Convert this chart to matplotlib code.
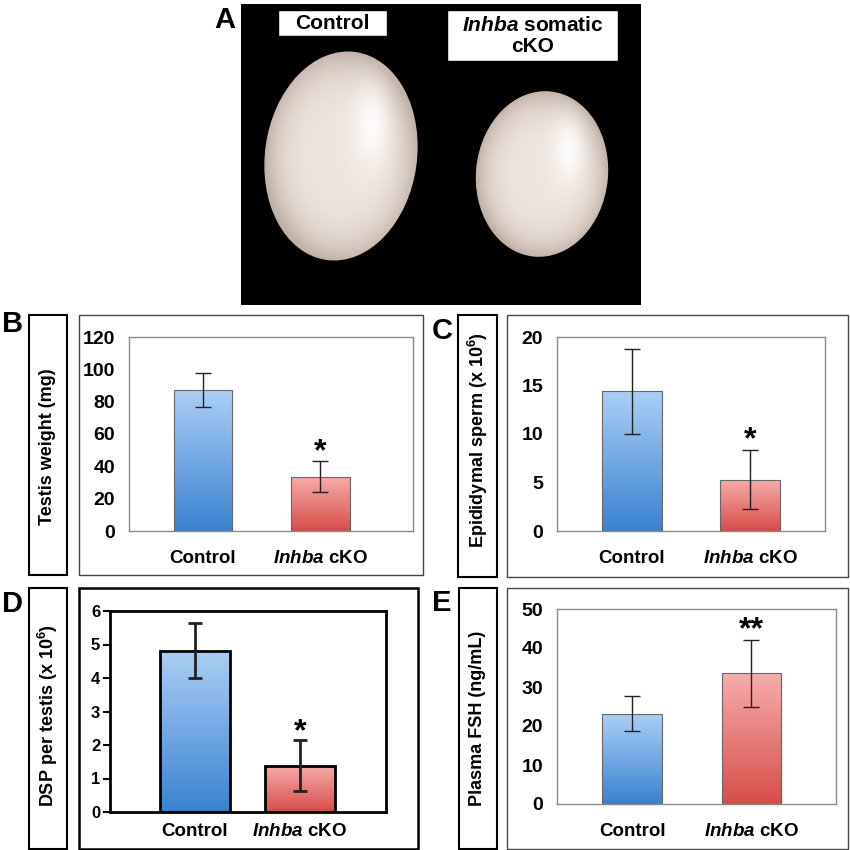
import numpy as np
import matplotlib
matplotlib.use("Agg")
import matplotlib.pyplot as plt
from matplotlib.patches import Rectangle, Ellipse
from matplotlib.colors import LinearSegmentedColormap

plt.rcParams['font.family'] = ['Liberation Sans', 'DejaVu Sans']
plt.rcParams['font.weight'] = 'bold'
plt.rcParams['mathtext.fontset'] = 'custom'
plt.rcParams['mathtext.rm'] = 'Liberation Sans:bold'
plt.rcParams['mathtext.it'] = 'Liberation Sans:bold:italic'
plt.rcParams['mathtext.bf'] = 'Liberation Sans:bold'

# data
groups = ["Control", r"$\mathit{Inhba}$ cKO"]

testis_weight = [87, 33.5]
testis_weight_err = [10.5, 9.5]

epi_sperm = [14.4, 5.3]
epi_sperm_err = [4.35, 3.0]

dsp = [4.82, 1.38]
dsp_err = [0.81, 0.76]

fsh = [23.2, 33.5]
fsh_err = [4.5, 8.5]

W = H = 850
fig = plt.figure(figsize=(8.5, 8.5), dpi=100)

blue_cm = LinearSegmentedColormap.from_list("blue", ["#3a82d0", "#abcff6"])
red_cm = LinearSegmentedColormap.from_list("red", ["#d84d48", "#f6aeaa"])


def px_axes(x0, y0, x1, y1):
    return fig.add_axes([x0 / W, 1 - y1 / H, (x1 - x0) / W, (y1 - y0) / H])


def box(x0, y0, x1, y1, lw=1.0, color="#555555"):
    fig.patches.append(Rectangle((x0 / W, 1 - y1 / H), (x1 - x0) / W, (y1 - y0) / H,
                                 transform=fig.transFigure, fill=False,
                                 lw=lw, ec=color, zorder=0))


def letter(x, y, s):
    fig.text(x / W, 1 - y / H, s, fontsize=21, fontweight='bold', ha='left', va='center')


def bar_panel(rect, vals, errs, ticks, xlim, width, stars, star_y, heavy=False):
    ax = px_axes(*rect)
    x = np.arange(len(vals))
    ec = "black" if heavy else "#666666"
    bars = ax.bar(x, vals, width=width, facecolor='none', edgecolor=ec,
                  lw=2.0 if heavy else 0.8, zorder=3)
    for b, cm in zip(bars, [blue_cm, red_cm]):
        x0 = b.get_x()
        grad = np.linspace(0, 1, 256).reshape(-1, 1)
        im = ax.imshow(grad, extent=[x0, x0 + b.get_width(), 0, b.get_height()],
                       origin='lower', aspect='auto', cmap=cm, zorder=2)
        im.set_clip_path(b)
    ax.errorbar(x, vals, yerr=errs, fmt='none', ecolor='#222222',
                elinewidth=2.0 if heavy else 1.0, capsize=5 if heavy else 6,
                capthick=2.0 if heavy else 1.0, zorder=4)
    for xi, s, sy in zip(x, stars, star_y):
        if s:
            ax.text(xi, sy, s, ha='center', va='center', fontsize=23, fontweight='bold')
    ax.set_xlim(*xlim)
    ax.set_ylim(ticks[0], ticks[-1])
    ax.set_yticks(ticks)
    ax.set_xticks(x)
    ax.set_xticklabels(groups, fontsize=13.5, fontweight='bold')
    if heavy:
        for sp in ax.spines.values():
            sp.set_color('black')
            sp.set_linewidth(2)
        ax.tick_params(axis='y', length=5, width=1.5, direction='out', labelsize=12, pad=2)
        ax.tick_params(axis='x', length=0, pad=8)
    else:
        for sp in ax.spines.values():
            sp.set_color('#8a8a8a')
            sp.set_linewidth(1)
        ax.tick_params(axis='y', length=0, labelsize=14, pad=10)
        ax.tick_params(axis='x', length=0, pad=14)
    for lab in ax.get_yticklabels():
        lab.set_fontweight('bold')
    return ax


# ---- panel A (photo stand-in) ----
axA = px_axes(241, 4, 641, 305)
axA.set_facecolor('black')
axA.set_xticks([])
axA.set_yticks([])
for sp in axA.spines.values():
    sp.set_visible(False)

yy, xx = np.mgrid[0:301, 0:400]
for cx, cy, ew, eh, ang in [(100, 152, 152, 210, 8), (301, 170, 132, 166, 6)]:
    e = Ellipse((cx, cy), ew, eh, angle=ang, fc='none', ec='none')
    axA.add_patch(e)
    dx = (xx - cx) / (ew / 2)
    dy = (yy - cy) / (eh / 2)
    r = np.clip(np.sqrt(dx ** 2 + dy ** 2), 0, 1)
    hl = np.exp(-(((xx - (cx + ew * 0.2)) / (ew * 0.12)) ** 2 + ((yy - (cy - eh * 0.15)) / (eh * 0.2)) ** 2))
    base = np.array([0.94, 0.90, 0.87])
    edge = np.array([0.76, 0.70, 0.66])
    shade = r[..., None] ** 4
    img = base * (1 - shade) + edge * shade
    img = img + hl[..., None] * (1 - img) * 0.9
    im = axA.imshow(np.clip(img, 0, 1), extent=[0, 400, 301, 0], zorder=1)
    im.set_clip_path(e)
axA.set_xlim(0, 400)
axA.set_ylim(301, 0)

axA.add_patch(Rectangle((37, 6), 109, 26, fc='white', ec='black', lw=1, zorder=3))
axA.text(91.5, 19.5, "Control", ha='center', va='center', fontsize=15, fontweight='bold', zorder=4)
axA.add_patch(Rectangle((206, 6), 171, 51, fc='white', ec='black', lw=1, zorder=3))
axA.text(291.5, 32, "$\\mathit{Inhba}$ somatic\ncKO", ha='center', va='center',
         fontsize=15, fontweight='bold', linespacing=1.1, zorder=4)
letter(214, 20, "A")

# ---- panel B ----
letter(2, 324, "B")
box(29, 315, 67, 575, lw=1.5, color='black')
box(79, 315, 423, 575, lw=1.0, color='#444444')
fig.text(48 / W, 1 - 447 / H, "Testis weight (mg)", rotation=90, ha='center', va='center',
         fontsize=13, fontweight='bold')
bar_panel((129, 337, 413, 531), testis_weight, testis_weight_err, np.arange(0, 121, 20),
          (-0.63, 1.79), 0.5, ["", "*"], [0, 49])

# ---- panel C ----
letter(432, 331, "C")
box(458, 315, 497, 577, lw=1.5, color='black')
box(507, 315, 848, 577, lw=1.0, color='#444444')
fig.text(477.5 / W, 1 - 440 / H, "Epididymal sperm (x 10$^6$)", rotation=90, ha='center',
         va='center', fontsize=13, fontweight='bold')
bar_panel((557, 337, 825, 531), epi_sperm, epi_sperm_err, np.arange(0, 21, 5),
          (-0.636, 1.636), 0.51, ["", "*"], [0, 9.4])

# ---- panel D ----
letter(2, 604, "D")
box(29, 588, 67, 849, lw=1.5, color='black')
box(79, 588, 418, 849, lw=1.8, color='black')
fig.text(48 / W, 1 - 716 / H, "DSP per testis (x 10$^6$)", rotation=90, ha='center',
         va='center', fontsize=13, fontweight='bold')
bar_panel((110, 611, 386, 812), dsp, dsp_err, np.arange(0, 7, 1),
          (-0.81, 1.82), 0.66, ["", "*"], [0, 2.39], heavy=True)

# ---- panel E ----
letter(432, 603, "E")
box(459, 588, 497, 849, lw=1.5, color='black')
box(507, 588, 848, 849, lw=1.0, color='#444444')
fig.text(478 / W, 1 - 718 / H, "Plasma FSH (ng/mL)", rotation=90, ha='center',
         va='center', fontsize=13, fontweight='bold')
bar_panel((557, 609, 836, 804), fsh, fsh_err, np.arange(0, 51, 10),
          (-0.63, 1.71), 0.5, ["", "**"], [0, 44.5])

fig.savefig("out.png", dpi=100)
